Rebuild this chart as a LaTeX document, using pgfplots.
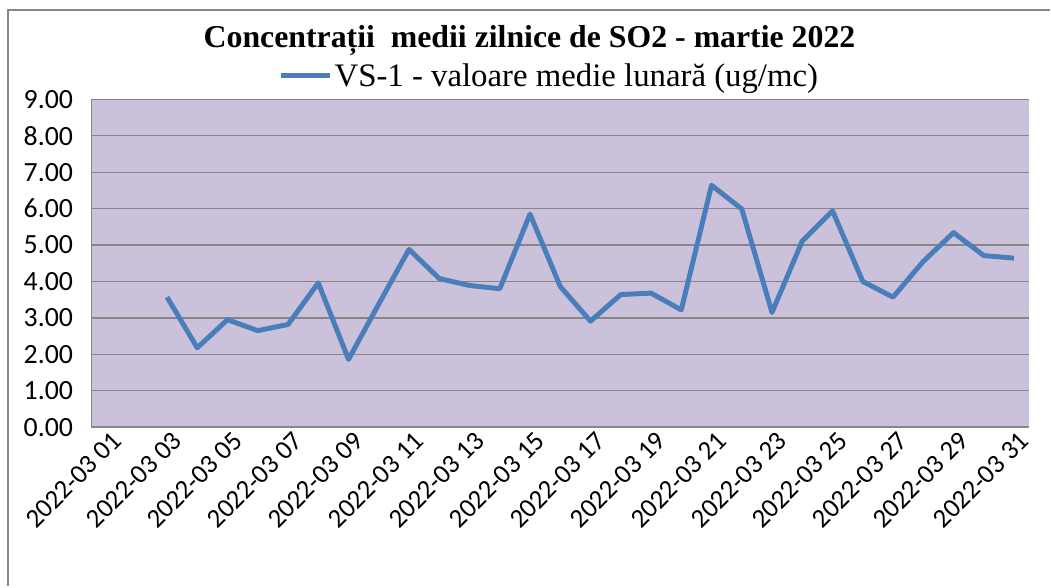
\documentclass[border=0pt]{standalone}
\usepackage{fontspec}
\setmainfont{Carlito}
\newfontfamily\timesfont{Liberation Serif}
\usepackage{pgfplots}
\pgfplotsset{compat=1.18}
\definecolor{plotbg}{HTML}{CCC1DA}
\definecolor{gridgray}{HTML}{868686}
\definecolor{so2blue}{HTML}{4A7EBB}

\pgfplotstableread{
day val
3 3.57
4 2.18
5 2.95
6 2.65
7 2.82
8 3.96
9 1.86
10 3.38
11 4.88
12 4.08
13 3.89
14 3.80
15 5.85
16 3.86
17 2.91
18 3.64
19 3.68
20 3.22
21 6.64
22 5.99
23 3.15
24 5.11
25 5.94
26 4.00
27 3.57
28 4.55
29 5.34
30 4.71
31 4.64
}\sothree

\begin{document}
\begin{tikzpicture}
\begin{axis}[
  name=main,
  scale only axis,
  width=944pt,
  height=330pt,
  xmin=0.5, xmax=31.5,
  ymin=0, ymax=9,
  ytick={0,1,...,9},
  xtick={1,3,...,31},
  xticklabels={2022-03 01,2022-03 03,2022-03 05,2022-03 07,2022-03 09,2022-03 11,2022-03 13,2022-03 15,2022-03 17,2022-03 19,2022-03 21,2022-03 23,2022-03 25,2022-03 27,2022-03 29,2022-03 31},
  x tick label style={rotate=45,anchor=north east,inner sep=2pt,yshift=-3pt,xshift=3pt,font=\fontsize{27}{30}\selectfont},
  yticklabel style={xshift=-15pt,font=\fontsize{28}{30}\selectfont,/pgf/number format/.cd,fixed,fixed zerofill,precision=2,assume math mode=true},
  major tick length=0pt,
  axis x line*=bottom,
  axis y line*=left,
  axis line style={gridgray,line width=1.5pt,-},
  ymajorgrids=true,
  grid style={gridgray,line width=1.3pt},
  axis background/.style={fill=plotbg},
  legend style={at={(rel axis cs:0.488,1.073)},anchor=center,draw=none,fill=none,
    font=\timesfont\fontsize{33}{38}\selectfont,inner sep=0pt},
  legend image code/.code={\draw[#1,line width=5pt] (0pt,0pt) -- (50pt,0pt);},
]
\addplot[so2blue,line width=5pt,line join=round,mark=none] table[x=day,y=val] {\sothree};
\addlegendentry{VS-1 - valoare medie lunară (ug/mc)}
\end{axis}
\node[font=\timesfont\bfseries\fontsize{32}{36}\selectfont] at (441pt,389pt) {Concentrații\ \ medii zilnice de SO2 - martie 2022};
\draw[gridgray,line width=2pt] (-84pt,-160pt) -- (-84pt,420pt) -- (965pt,420pt);
\path[use as bounding box] (-92pt,-153pt) rectangle (959pt,430pt);
\end{tikzpicture}
\end{document}
